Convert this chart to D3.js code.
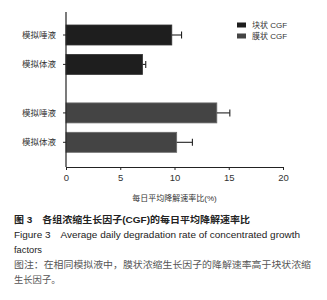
<!DOCTYPE html>
<html lang="zh">
<head>
<meta charset="UTF-8">
<script src="https://d3js.org/d3.v7.min.js"></script>
<style>
  body { margin: 0; padding: 0; background: #fff; }
  svg { display: block; }
  text { font-family: "Liberation Sans", Arial, "Noto Sans CJK SC", sans-serif; }
</style>
</head>
<body>
<svg id="chart" width="327" height="300"></svg>
<script>
// data
const groups = ["块状 CGF", "膜状 CGF"];
const fluids = ["模拟唾液", "模拟体液"];
const means = [[9.75, 7.05], [13.9, 10.2]];
const errors = [[0.9, 0.3], [1.2, 1.45]];
const xTicks = [0, 5, 10, 15, 20];
const colors = ["#1e1e1e", "#444444"];

const svg = d3.select("#chart");

// layout
const plotLeft = 66, plotRight = 283, plotTop = 12, plotBottom = 167;
const groupGap = 2.65;

const x = d3.scaleLinear().domain([0, 20]).range([plotLeft, plotRight]);
const y = d3.scaleLinear().domain([0, 1 + groupGap]).range([35, 35 + 29.4 * (1 + groupGap)]);
const barH = 20;

const rows = [];
groups.forEach((g, gi) => {
  fluids.forEach((f, fi) => {
    rows.push({ group: gi, fluid: f, pos: gi * groupGap + fi, mean: means[gi][fi], err: errors[gi][fi] });
  });
});

// bars
svg.selectAll("rect.bar").data(rows).enter().append("rect")
  .attr("class", "bar")
  .attr("x", x(0))
  .attr("y", d => y(d.pos) - barH / 2)
  .attr("width", d => x(d.mean) - x(0))
  .attr("height", barH)
  .attr("fill", d => colors[d.group])
  .attr("stroke", d => d.group ? "#6a6a6a" : "#333")
  .attr("stroke-width", 0.8);

// error bars
const eb = svg.selectAll("g.err").data(rows).enter().append("g").attr("class", "err")
  .attr("stroke", "#222").attr("stroke-width", 1.1);
eb.append("line")
  .attr("x1", d => x(d.mean)).attr("x2", d => x(d.mean + d.err))
  .attr("y1", d => y(d.pos)).attr("y2", d => y(d.pos));
eb.append("line")
  .attr("x1", d => x(d.mean + d.err)).attr("x2", d => x(d.mean + d.err))
  .attr("y1", d => y(d.pos) - 3.5).attr("y2", d => y(d.pos) + 3.5);

// x axis
const xAxis = svg.append("g")
  .attr("transform", `translate(0,${plotBottom})`)
  .call(d3.axisBottom(x).tickValues(xTicks).tickSize(3).tickPadding(4).tickSizeOuter(0));
xAxis.select(".domain").attr("stroke", "#222").attr("stroke-width", 1.2);
xAxis.selectAll(".tick line").attr("stroke", "#222");
xAxis.selectAll("text").attr("font-size", 9.5).attr("fill", "#333")
  .attr("font-family", "Liberation Sans, Arial, sans-serif");

// y axis (vertical line + ticks)
svg.append("line")
  .attr("x1", plotLeft).attr("x2", plotLeft).attr("y1", plotTop).attr("y2", plotBottom)
  .attr("stroke", "#222").attr("stroke-width", 1.2);
svg.selectAll("line.ytick").data(rows).enter().append("line")
  .attr("class", "ytick")
  .attr("x1", plotLeft - 3).attr("x2", plotLeft)
  .attr("y1", d => y(d.pos)).attr("y2", d => y(d.pos))
  .attr("stroke", "#222");
svg.selectAll("text.ylab").data(rows).enter().append("text")
  .attr("class", "ylab")
  .attr("x", plotLeft - 10)
  .attr("y", d => y(d.pos) + 3)
  .attr("text-anchor", "end")
  .attr("font-size", 8.5)
  .attr("fill", "#333")
  .text(d => d.fluid);

// axis title
svg.append("text")
  .attr("x", (plotLeft + plotRight) / 2)
  .attr("y", 201)
  .attr("text-anchor", "middle")
  .attr("font-size", 8)
  .attr("fill", "#333")
  .text("每日平均降解速率比(%)");

// legend
const legend = svg.selectAll("g.leg").data(groups).enter().append("g")
  .attr("class", "leg")
  .attr("transform", (d, i) => `translate(237,${25 + i * 11})`);
legend.append("rect")
  .attr("x", 0).attr("y", -2.5).attr("width", 9).attr("height", 5)
  .attr("fill", (d, i) => colors[i]);
legend.append("text")
  .attr("x", 15).attr("y", 3)
  .attr("font-size", 8)
  .attr("fill", "#333")
  .text(d => d);

// caption
const caption = [
  { t: "图 3　各组浓缩生长因子(CGF)的每日平均降解速率比", y: 222.5, c: "#222", w: "bold", len: 236 },
  { t: "Figure 3　Average daily degradation rate of concentrated growth", y: 237.5, c: "#222", w: "normal", len: 286 },
  { t: "factors", y: 252.5, c: "#222", w: "normal", len: null },
  { t: "图注：在相同模拟液中，膜状浓缩生长因子的降解速率高于块状浓缩", y: 267.5, c: "#555", w: "normal", len: 297 },
  { t: "生长因子。", y: 282.5, c: "#555", w: "normal", len: null }
];
caption.forEach(c => {
  const t = svg.append("text")
    .attr("x", 14).attr("y", c.y)
    .attr("font-size", 9.3)
    .attr("font-weight", c.w)
    .attr("fill", c.c)
    .text(c.t);
  if (c.len) t.attr("textLength", c.len).attr("lengthAdjust", "spacingAndGlyphs");
});
</script>
</body>
</html>
